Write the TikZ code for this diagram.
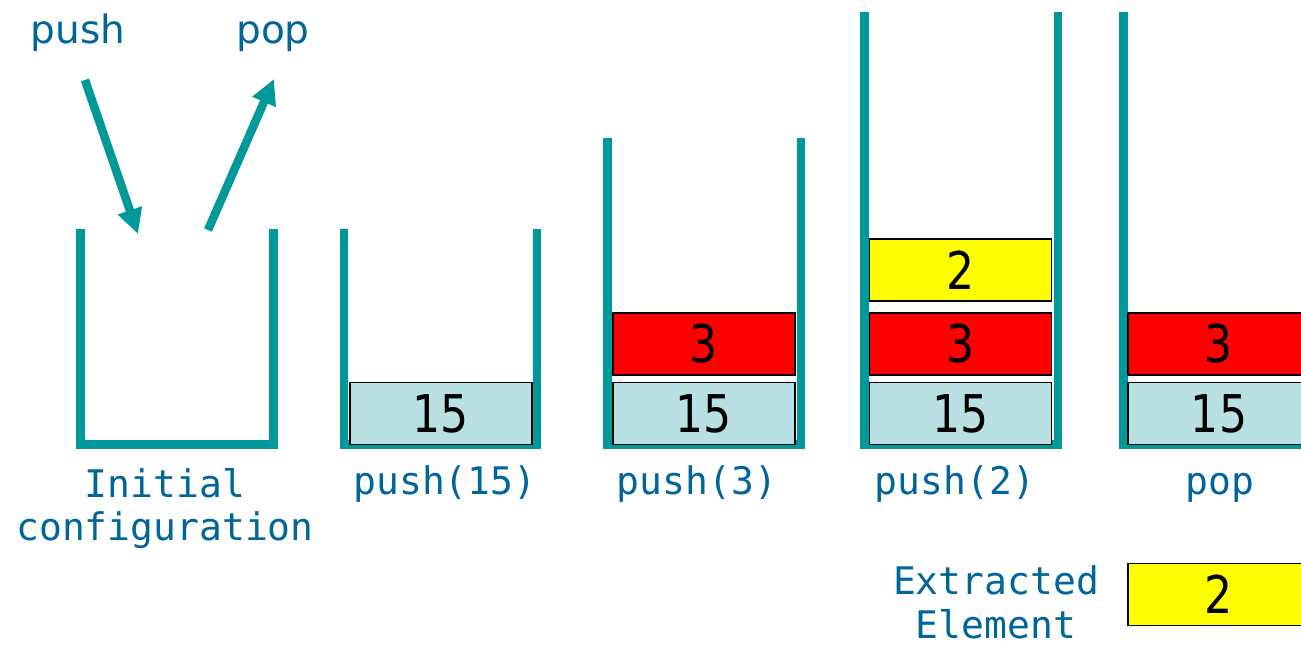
\documentclass[tikz,border=0pt]{standalone}
\usepackage{fontspec}
\setmainfont{DejaVu Sans}
\newfontfamily\monofont{DejaVu Sans Mono}
\newfontfamily\digitfont[FakeStretch=0.85]{DejaVu Sans}
\usetikzlibrary{arrows.meta}
\definecolor{wallteal}{RGB}{0,153,153}
\definecolor{labelblue}{RGB}{0,102,153}
\definecolor{cellblue}{RGB}{185,224,227}
\definecolor{cellred}{RGB}{255,0,0}
\definecolor{cellyellow}{RGB}{255,255,0}
\tikzset{
  wall/.style={draw=wallteal, line width=8.5pt, line join=miter},
  cell/.style={draw=black, line width=1.5pt, minimum width=182pt, minimum height=62pt,
    inner sep=0pt, font=\digitfont\fontsize{52}{52}\selectfont, text=black},
  bluecell/.style={cell, fill=cellblue},
  redcell/.style={cell, fill=cellred},
  yellowcell/.style={cell, fill=cellyellow},
  oplabel/.style={font=\monofont\fontsize{38}{38}\selectfont, text=labelblue, inner sep=0pt, anchor=base},
  toplabel/.style={font=\fontsize{39}{39}\selectfont, text=labelblue, inner sep=0pt, anchor=base},
  flow/.style={draw=wallteal, line width=8.5pt, -{Triangle[length=25pt, width=24pt]}}
}
\begin{document}
\begin{tikzpicture}[x=1pt, y=-1pt]
\useasboundingbox (0,0) rectangle (1301,645);
\clip (0,0) rectangle (1301,645);

% operation names and their arrows
\node[toplabel] (pushtxt) at (78,43) {push};
\node[toplabel] (poptxt) at (273,43) {pop};
\coordinate (pushfrom) at (85,80);
\coordinate (pushto) at (138,234);
\coordinate (popfrom) at (208,230);
\coordinate (popto) at (274,79);
\draw[flow] (pushfrom) -- (pushto);
\draw[flow] (popfrom) -- (popto);

% stack containers
\draw[wall] (80.5,229) -- (80.5,444.5) -- (273.5,444.5) -- (273.5,229);
\draw[wall] (344,229) -- (344,444.5) -- (537,444.5) -- (537,229);
\draw[wall] (607.5,138) -- (607.5,444.5) -- (801,444.5) -- (801,138);
\draw[wall] (864.5,12) -- (864.5,444.5) -- (1058,444.5) -- (1058,12);
\draw[wall] (1123.5,12) -- (1123.5,444.5) -- (1317,444.5) -- (1317,12);

% stack contents
\node[bluecell] (b2a) at (441,413.5) {15};

\node[bluecell] (b3a) at (704,413.5) {15};
\node[redcell] (b3b) at (704,344) {3};

\node[bluecell] (b4a) at (960.5,413.5) {15};
\node[redcell] (b4b) at (960.5,344) {3};
\node[yellowcell] (b4c) at (960.5,270) {2};

\node[bluecell] (b5a) at (1219,413.5) {15};
\node[redcell] (b5b) at (1219,344) {3};

% operation labels
\node[oplabel] (l1a) at (165,497) {Initial};
\node[oplabel] (l1b) at (165,540) {configuration};
\node[oplabel] (l2) at (445,494) {push(15)};
\node[oplabel] (l3) at (697,494) {push(3)};
\node[oplabel] (l4) at (955,494) {push(2)};
\node[oplabel] (l5) at (1220,494) {pop};

% extracted element
\node[oplabel] (exta) at (996,594) {Extracted};
\node[oplabel] (extb) at (996,638) {Element};
\node[yellowcell] (extcell) at (1219,594.5) {2};
\end{tikzpicture}
\end{document}
